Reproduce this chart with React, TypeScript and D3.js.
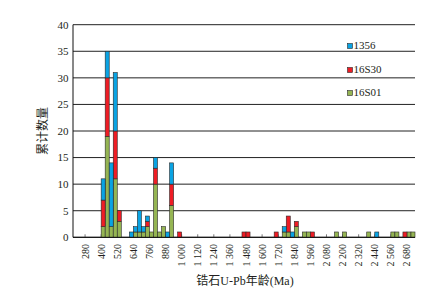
import React from 'react';
import * as d3 from 'd3';

// Bin starts (Ma), 30 Ma bins; only non-empty bins listed
const binStarts = [400, 430, 460, 490, 520, 610, 640, 670, 700, 730, 760, 790, 820, 850, 880, 910, 970, 1450, 1480, 1690, 1750, 1780, 1810, 1840, 1900, 1930, 1960, 2140, 2200, 2380, 2440, 2560, 2590, 2650, 2680, 2710];
const series16S01 = [2, 19, 2, 11, 3, 0, 1, 1, 1, 2, 1, 10, 1, 2, 0, 6, 0, 0, 0, 0, 1, 1, 0, 2, 1, 1, 0, 1, 1, 1, 0, 1, 1, 0, 1, 1];
const series16S30 = [5, 11, 0, 9, 2, 0, 0, 0, 0, 1, 0, 3, 0, 0, 0, 4, 1, 1, 1, 1, 0, 3, 0, 1, 0, 0, 1, 0, 0, 0, 0, 0, 0, 1, 0, 0];
const series1356 = [4, 5, 12, 11, 0, 1, 1, 4, 1, 1, 0, 2, 0, 0, 1, 4, 0, 0, 0, 0, 1, 0, 1, 0, 0, 0, 0, 0, 0, 0, 1, 0, 0, 0, 0, 0];
const binWidth = 30;

const seriesKeys = ['16S01', '16S30', '1356'];
const legendOrder = ['1356', '16S30', '16S01'];
const xTickValues = [280, 400, 520, 640, 760, 880, 1000, 1120, 1240, 1360, 1480, 1600, 1720, 1840, 1960, 2080, 2200, 2320, 2440, 2560, 2680];
const yTickValues = [0, 5, 10, 15, 20, 25, 30, 35, 40];
const xTitle = '锆石U-Pb年龄(Ma)';
const yTitle = '累计数量';

const colors: Record<string, string> = {
  '16S01': '#95b553',
  '16S30': '#ee1d25',
  '1356': '#0aa3e3',
};

const fmt = (v: number) => (v >= 1000 ? `${Math.floor(v / 1000)} ${String(v % 1000).padStart(3, '0')}` : String(v));

export default function App() {
  const W = 428;
  const H = 289;
  const x = d3.scaleLinear().domain([190, 2740]).range([73, 415]);
  const y = d3.scaleLinear().domain([0, 40]).range([237.3, 24.7]);

  const table = binStarts.map((b, i) => ({
    bin: b,
    '16S01': series16S01[i],
    '16S30': series16S30[i],
    '1356': series1356[i],
  }));
  const stacked = d3.stack<any>().keys(seriesKeys)(table);

  const serif = "'Liberation Serif', 'Times New Roman', 'Noto Sans CJK SC', serif";
  const txt = '#231f20';

  return (
    <svg width={W} height={H} style={{ position: 'absolute', left: 0, top: 0, background: '#fff' }}>
      {/* gridlines */}
      {yTickValues.map((t) => (
        <line key={'g' + t} x1={73} x2={415} y1={y(t)} y2={y(t)} stroke={t === 0 ? '#111' : '#222'} strokeWidth={1} />
      ))}
      {/* small inward ticks at category labels */}
      {xTickValues.map((t) => (
        <line key={'tk' + t} x1={x(t)} x2={x(t)} y1={y(0)} y2={y(0) - 3} stroke="#555" strokeWidth={0.8} />
      ))}
      {/* bars */}
      {stacked.map((s) => (
        <g key={s.key} fill={colors[s.key]}>
          {s.map((d, i) =>
            d[1] - d[0] > 0 ? (
              <rect
                key={i}
                x={x(d.data.bin)}
                width={x(d.data.bin + binWidth) - x(d.data.bin)}
                y={y(d[1])}
                height={y(d[0]) - y(d[1])}
                stroke="#2a2a2a"
                strokeWidth={0.6}
              />
            ) : null
          )}
        </g>
      ))}
      {/* axes lines */}
      <line x1={73} x2={73} y1={y(40)} y2={y(0)} stroke="#111" strokeWidth={1} />
      <line x1={73} x2={415} y1={y(0)} y2={y(0)} stroke="#111" strokeWidth={1} />
      {/* y tick labels */}
      {yTickValues.map((t) => (
        <text key={'yl' + t} x={68.5} y={y(t)} dy="0.35em" textAnchor="end" fontFamily={serif} fontSize={11} fill={txt}>
          {t}
        </text>
      ))}
      {/* x tick labels */}
      {xTickValues.map((t) => (
        <text
          key={'xl' + t}
          transform={`translate(${x(t)},244) rotate(-90)`}
          dy="0.35em"
          textAnchor="end"
          fontFamily={serif}
          fontSize={10}
          fill={txt}
        >
          {fmt(t)}
        </text>
      ))}
      {/* y title */}
      <text transform="translate(43,131) rotate(-90)" dy="0.35em" textAnchor="middle" fontFamily={serif} fontSize={12} fill={txt}>
        {yTitle}
      </text>
      {/* x title */}
      <text x={245} y={285} textAnchor="middle" fontFamily={serif} fontSize={12} fill={txt}>
        {xTitle}
      </text>
      {/* legend */}
      {legendOrder.map((k, i) => {
        const by = [49, 73, 96][i];
        return (
          <g key={'lg' + k}>
            <rect x={347.5} y={by - 5.5} width={5} height={5} fill={colors[k]} stroke="#2a2a2a" strokeWidth={0.6} />
            <text x={353.5} y={by} fontFamily={serif} fontSize={11} fill={txt}>
              {k}
            </text>
          </g>
        );
      })}
    </svg>
  );
}
